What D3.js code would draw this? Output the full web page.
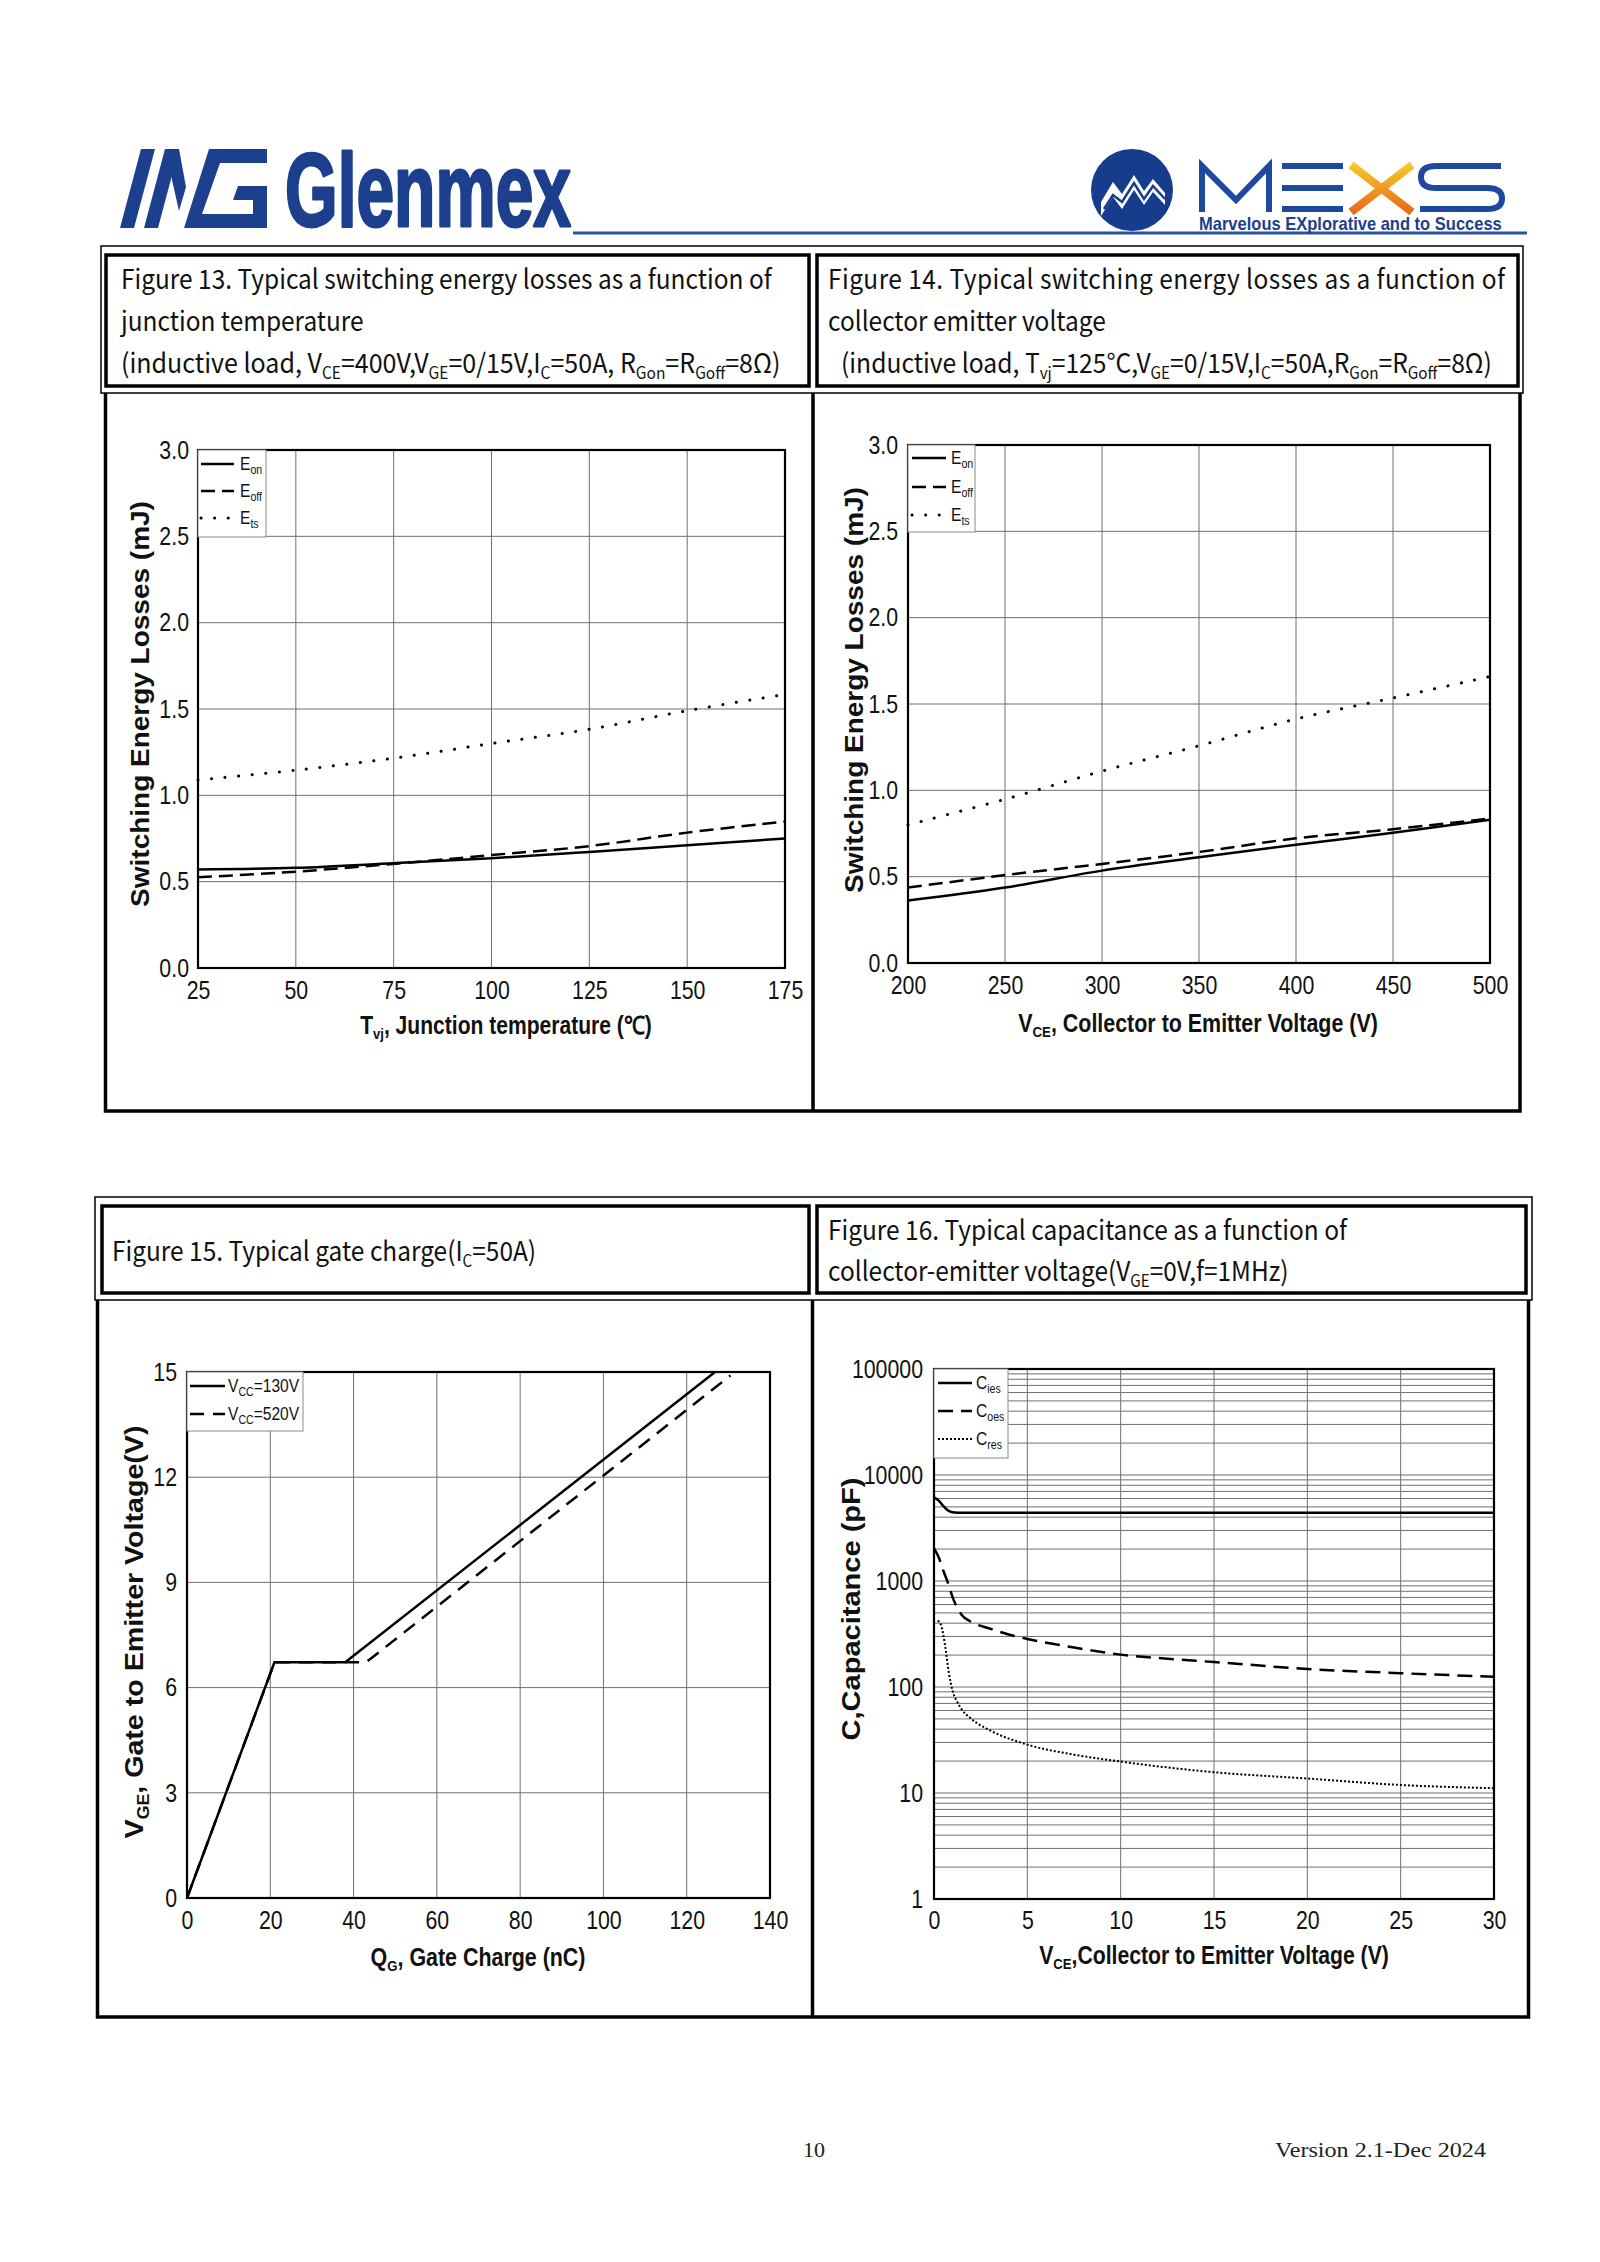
<!DOCTYPE html>
<html><head><meta charset="utf-8">
<script src="https://cdn.jsdelivr.net/npm/d3@7"></script>
<style>html,body{margin:0;padding:0;background:#fff;} svg{display:block;}</style>
</head><body><svg id="page" width="1600" height="2262"></svg>
<script>
// ---------------- DATA ----------------
// Figure 13: energy vs junction temperature
const tempX = [25, 50, 75, 100, 125, 150, 175];
const eonT  = [0.571, 0.580, 0.607, 0.636, 0.672, 0.711, 0.750];
const eoffT = [0.525, 0.558, 0.603, 0.654, 0.706, 0.784, 0.848];
const etsT  = [1.089, 1.146, 1.215, 1.300, 1.383, 1.490, 1.585];
const tempTicks = [25, 50, 75, 100, 125, 150, 175];
const energyTicks = [0, 0.5, 1.0, 1.5, 2.0, 2.5, 3.0];
// Figure 14: energy vs VCE
const vceX  = [200, 250, 300, 350, 400, 450, 500];
const eonV  = [0.362, 0.437, 0.535, 0.612, 0.685, 0.754, 0.829];
const eoffV = [0.437, 0.509, 0.574, 0.643, 0.722, 0.775, 0.837];
const etsV  = [0.800, 0.948, 1.111, 1.258, 1.413, 1.535, 1.659];
const vceTicks = [200, 250, 300, 350, 400, 450, 500];
// Figure 15: gate charge
const qg130  = [0, 21, 38, 126.8];
const vge130 = [0, 6.72, 6.72, 15];
const qg520  = [0, 21, 43, 130.5];
const vge520 = [0, 6.72, 6.72, 14.9];
const qgTicks = [0, 20, 40, 60, 80, 100, 120, 140];
const vgeTicks = [0, 3, 6, 9, 12, 15];
// Figure 16: capacitance vs VCE
const ciesV = [0, 0.25, 0.5, 0.75, 1.1, 1.5, 5, 10, 15, 20, 25, 30];
const ciesC = [6140, 5730, 5100, 4630, 4420, 4400, 4400, 4400, 4400, 4400, 4400, 4400];
const coesV = [0, 0.25, 0.5, 0.75, 1, 1.5, 2, 3, 4, 5, 7.5, 10, 12.5, 15, 20, 25, 30];
const coesC = [2030, 1675, 1250, 955, 700, 475, 411, 355, 313, 284, 236, 202, 185, 172, 148, 135, 125];
const cresV = [0.2, 0.4, 0.6, 0.8, 1, 1.25, 1.5, 2, 3, 5, 7.5, 10, 15, 20, 25, 30];
const cresC = [423, 373, 241, 135, 91.5, 72, 61, 50, 39, 28.6, 23, 19.8, 15.7, 13.7, 11.9, 11.1];
const capXTicks = [0, 5, 10, 15, 20, 25, 30];
const capYTicks = [1, 10, 100, 1000, 10000, 100000];

// ---------------- HELPERS ----------------
const svg = d3.select('#page');
const NARROW = 0.82;
const SANS = "'Liberation Sans', Arial, sans-serif";
const HFONT = "'Noto Sans CJK SC', 'Noto Sans', sans-serif";
const BLUE = '#1c3f8e';

function rich(parent, parts, size, subRatio) {
  const sr = subRatio || 0.62;
  const t = parent.append('text').attr('font-size', size);
  let shifted = false;
  const off = size * 0.22;
  parts.forEach(p => {
    const isSub = Array.isArray(p);
    const s = t.append('tspan').text(isSub ? p[0] : p);
    if (isSub) {
      s.attr('font-size', size * sr);
      if (!shifted) { s.attr('dy', off); shifted = true; }
    } else if (shifted) { s.attr('dy', -off); shifted = false; }
  });
  return t;
}
function fitWidth(t, target) { return target / t.node().getComputedTextLength(); }

// ---------------- LOGOS ----------------
const icon = svg.append('g').attr('transform', 'translate(120,149)').attr('fill', BLUE);
[
  [[0,79],[14,79],[35,0],[21,0]],
  [[24,79],[38,79],[59,0],[45,0]],
  [[45,0],[59,0],[66,38],[59,62]],
  [[64,79],[89,0],[147,0],[147,14],[100,14],[82,65],[133,65],[133,51],[113,51],[118,37],[147,37],[147,79]]
].forEach(pts => icon.append('polygon').attr('points', pts.map(p => p.join(',')).join(' ')));
{
  const g = svg.append('g');
  const t = g.append('text').text('Glenmex').attr('font-family', SANS).attr('font-weight', 'bold')
    .attr('font-size', 104).attr('fill', BLUE).attr('stroke', BLUE).attr('stroke-width', 3)
    .attr('stroke-linejoin', 'round');
  const s = fitWidth(t, 286);
  g.attr('transform', `translate(285,226) scale(${s},1)`);
}
svg.append('line').attr('x1', 573).attr('x2', 1527).attr('y1', 233).attr('y2', 233)
  .attr('stroke', '#2a52a0').attr('stroke-width', 3);
svg.append('circle').attr('cx', 1132).attr('cy', 190).attr('r', 41).attr('fill', '#163d8c');
{
  const g = svg.append('g').attr('transform', 'translate(1132,192)');
  g.append('polygon').attr('fill', '#fff').attr('points',
    '-31,10 -19,-10 -10,2 2,-17 12,-1 21,-13 33,1 33,13 21,0 12,13 2,-2 -10,17 -19,5 -31,24');
  g.append('polyline').attr('fill', 'none').attr('stroke', '#163d8c').attr('stroke-width', 2.5)
    .attr('points', '-28,17 -19,3 -10,10 2,-9 12,7 21,-6 33,7');
}
{
  const defs = svg.append('defs');
  const gr = defs.append('linearGradient').attr('id', 'xgrad').attr('x1', 0).attr('y1', 0).attr('x2', 0).attr('y2', 1);
  gr.append('stop').attr('offset', '0%').attr('stop-color', '#f6c928');
  gr.append('stop').attr('offset', '100%').attr('stop-color', '#e86a1c');
  const g = svg.append('g').attr('fill', 'none').attr('stroke', '#1d4aa0').attr('stroke-width', 6);
  g.append('polyline').attr('points', '1202,212 1202,166 1236,200 1269,166 1269,212');
  g.append('line').attr('x1', 1282).attr('x2', 1343).attr('y1', 166).attr('y2', 166);
  g.append('line').attr('x1', 1282).attr('x2', 1343).attr('y1', 188).attr('y2', 188);
  g.append('line').attr('x1', 1282).attr('x2', 1343).attr('y1', 209).attr('y2', 209);
  g.append('path').attr('d', 'M1501,166 H1436 Q1421,166 1421,177 Q1421,188 1436,188 H1487 Q1502,188 1502,198.5 Q1502,209 1487,209 H1420');
  svg.append('g').attr('stroke', 'url(#xgrad)').attr('stroke-width', 8)
    .call(s => {
      s.append('line').attr('x1', 1351).attr('y1', 165).attr('x2', 1412).attr('y2', 212);
      s.append('line').attr('x1', 1412).attr('y1', 165).attr('x2', 1351).attr('y2', 212);
    });
  const tg = svg.append('g');
  const t = tg.append('text').text('Marvelous EXplorative and to Success').attr('font-family', SANS)
    .attr('font-weight', 'bold').attr('font-size', 18).attr('fill', '#1c3f8e');
  tg.attr('transform', `translate(1199,230) scale(${fitWidth(t, 303)},1)`);
}

// ---------------- TABLE FRAMES ----------------
function frames(o) {
  const g = svg.append('g').attr('fill', 'none').attr('stroke', '#000');
  g.append('rect').attr('x', o.ox0).attr('y', o.oy0).attr('width', o.ox1 - o.ox0).attr('height', o.oy1 - o.oy0).attr('stroke-width', 1.5);
  g.append('rect').attr('x', o.lx0).attr('y', o.iy0).attr('width', o.lx1 - o.lx0).attr('height', o.iy1 - o.iy0).attr('stroke-width', 3.5);
  g.append('rect').attr('x', o.rx0).attr('y', o.iy0).attr('width', o.rx1 - o.rx0).attr('height', o.iy1 - o.iy0).attr('stroke-width', 3.5);
  g.append('path').attr('stroke-width', 3.5)
    .attr('d', `M${o.bx0},${o.oy1} V${o.by1} H${o.bx1} V${o.oy1} M${o.bmid},${o.oy1} V${o.by1}`);
}
frames({ox0: 101, ox1: 1523, oy0: 246, oy1: 393, lx0: 106, lx1: 809, rx0: 817, rx1: 1518, iy0: 255, iy1: 386,
  bx0: 105.5, bx1: 1520, bmid: 813, by1: 1111});
frames({ox0: 95, ox1: 1532, oy0: 1197, oy1: 1300, lx0: 102, lx1: 809, rx0: 817, rx1: 1526, iy0: 1206, iy1: 1293,
  bx0: 97.5, bx1: 1528.5, bmid: 812.5, by1: 2017});

// ---------------- HEADER TEXT ----------------
const headerLines = [
  {x: 121, y: 289, parts: ['Figure 13. Typical switching energy losses as a function of'], ref: 651},
  {x: 121, y: 331, parts: ['junction temperature']},
  {x: 121, y: 373, parts: ['(inductive load, V', ['CE'], '=400V,V', ['GE'], '=0/15V,I', ['C'], '=50A, R', ['Gon'], '=R', ['Goff'], '=8Ω)'], fit: 660},
  {x: 828, y: 289, parts: ['Figure 14. Typical switching energy losses as a function of'], justify: 677},
  {x: 828, y: 331, parts: ['collector emitter voltage']},
  {x: 841, y: 373, parts: ['(inductive load, T', ['vj'], '=125°C,V', ['GE'], '=0/15V,I', ['C'], '=50A,R', ['Gon'], '=R', ['Goff'], '=8Ω)'], fit: 651},
  {x: 112, y: 1261, parts: ['Figure 15. Typical gate charge(I', ['C'], '=50A)']},
  {x: 828, y: 1240, parts: ['Figure 16. Typical capacitance as a function of']},
  {x: 828, y: 1281, parts: ['collector-emitter voltage(V', ['GE'], '=0V,f=1MHz)']}
];
let hRatio = 1;
const hItems = headerLines.map(h => {
  const g = svg.append('g');
  const t = rich(g, h.parts, 27).attr('font-family', HFONT).attr('fill', '#111');
  if (h.ref) hRatio = fitWidth(t, h.ref);
  return {g, t, h};
});
hItems.forEach(({g, t, h}) => {
  let r = hRatio;
  if (h.justify) t.attr('textLength', h.justify / hRatio).attr('lengthAdjust', 'spacing');
  if (h.fit) r = fitWidth(t, h.fit);
  g.attr('transform', `translate(${h.x},${h.y}) scale(${r},1)`);
});

// ---------------- CHARTS ----------------
function titleText(cx, cy, parts, size, width, rotate) {
  const g = svg.append('g');
  const t = rich(g, parts, size).attr('font-family', SANS).attr('font-weight', 'bold')
    .attr('text-anchor', 'middle').attr('fill', '#111').attr('y', size * 0.36);
  const s = fitWidth(t, width);
  g.attr('transform', `translate(${cx},${cy})${rotate ? ' rotate(-90)' : ''} scale(${s},1)`);
}

function chart(c) {
  const x = d3.scaleLinear().domain(c.xDomain).range([c.x0, c.x1]);
  const y = (c.log ? d3.scaleLog() : d3.scaleLinear()).domain(c.yDomain).range([c.y1, c.y0]);
  const g = svg.append('g');
  g.append('g').selectAll('line').data(c.xGrid).join('line')
    .attr('x1', d => x(d)).attr('x2', d => x(d)).attr('y1', c.y0).attr('y2', c.y1)
    .attr('stroke', '#6f6f6f').attr('stroke-width', 1);
  g.append('g').selectAll('line').data(c.yGrid).join('line')
    .attr('y1', d => y(d)).attr('y2', d => y(d)).attr('x1', c.x0).attr('x2', c.x1)
    .attr('stroke', '#6f6f6f').attr('stroke-width', 1);
  const ax = g.append('g').attr('transform', `translate(0,${c.y1})`)
    .call(d3.axisBottom(x).tickValues(c.xTicks).tickSize(0).tickPadding(c.xPad).tickFormat(c.xFmt));
  ax.select('.domain').remove();
  ax.selectAll('text').attr('font-size', 26).attr('font-family', SANS).attr('fill', '#111')
    .attr('transform', `scale(${NARROW},1)`);
  const ay = g.append('g').attr('transform', `translate(${c.x0},0)`)
    .call(d3.axisLeft(y).tickValues(c.yTicks).tickSize(0).tickFormat(c.yFmt));
  ay.select('.domain').remove();
  ay.selectAll('text').attr('font-size', 26).attr('font-family', SANS).attr('fill', '#111')
    .attr('x', -c.yPad / NARROW).attr('transform', `scale(${NARROW},1)`);
  c.series.forEach(s => {
    const pts = s.x.map((v, i) => [v, s.y[i]]);
    g.append('path').datum(pts)
      .attr('d', d3.line().x(d => x(d[0])).y(d => y(d[1])).curve(s.curve || d3.curveLinear))
      .attr('fill', 'none').attr('stroke', '#000').attr('stroke-width', s.w || 2.5)
      .attr('stroke-dasharray', s.dash || null).attr('stroke-linecap', s.cap || 'butt');
  });
  g.append('rect').attr('x', c.x0).attr('y', c.y0).attr('width', c.x1 - c.x0).attr('height', c.y1 - c.y0)
    .attr('fill', 'none').attr('stroke', '#000').attr('stroke-width', 2.2);
  const L = c.legend;
  g.append('rect').attr('x', L.x0).attr('y', L.y0).attr('width', L.x1 - L.x0).attr('height', L.y1 - L.y0)
    .attr('fill', '#fff').attr('stroke', '#8a8a8a').attr('stroke-width', 1);
  L.rows.forEach((r, i) => {
    const s = c.series[i];
    g.append('line').attr('x1', L.sx0).attr('x2', L.sx1).attr('y1', r).attr('y2', r)
      .attr('stroke', '#000').attr('stroke-width', s.w || 2.5).attr('stroke-dasharray', s.ldash || s.dash || null)
      .attr('stroke-linecap', s.cap || 'butt');
    const lg = g.append('g').attr('transform', `translate(${L.tx},${r + 6}) scale(${NARROW},1)`);
    rich(lg, s.label, 19, 0.68).attr('font-family', SANS).attr('fill', '#111');
  });
  titleText(c.yt[0], c.yt[1], c.ytParts, 26, c.yt[2], true);
  titleText(c.xt[0], c.xt[1], c.xtParts, 25, c.xt[2], false);
}

const f1 = d3.format('.1f');
const fd = d3.format('d');
const curve = d3.curveCatmullRom;
const logGrid = [];
[1, 10, 100, 1000, 10000].forEach(d => { for (let k = 1; k <= 9; k++) logGrid.push(k * d); });
logGrid.push(100000);

chart({x0: 198, x1: 785, y0: 450, y1: 968, xDomain: [25, 175], yDomain: [0, 3],
  xGrid: tempTicks, yGrid: energyTicks, xTicks: tempTicks, yTicks: energyTicks,
  xFmt: fd, yFmt: f1, xPad: 13, yPad: 9,
  series: [
    {x: tempX, y: eonT, curve, label: ['E', ['on']]},
    {x: tempX, y: eoffT, curve, dash: '14,7', label: ['E', ['off']]},
    {x: tempX, y: etsT, curve, dash: '0.1,13.5', cap: 'round', w: 3, label: ['E', ['ts']]}
  ],
  legend: {x0: 198, x1: 266, y0: 450, y1: 537, rows: [464, 491, 518], sx0: 201, sx1: 234, tx: 240},
  yt: [140, 704, 406], ytParts: ['Switching Energy Losses (mJ)'],
  xt: [506, 1025, 292], xtParts: ['T', ['vj'], ', Junction temperature (℃)']
});

chart({x0: 908, x1: 1490, y0: 445, y1: 963, xDomain: [200, 500], yDomain: [0, 3],
  xGrid: vceTicks, yGrid: energyTicks, xTicks: vceTicks, yTicks: energyTicks,
  xFmt: fd, yFmt: f1, xPad: 13, yPad: 10,
  series: [
    {x: vceX, y: eonV, curve, label: ['E', ['on']]},
    {x: vceX, y: eoffV, curve, dash: '14,7', label: ['E', ['off']]},
    {x: vceX, y: etsV, curve, dash: '0.1,13.5', cap: 'round', w: 3, label: ['E', ['ts']]}
  ],
  legend: {x0: 908, x1: 975, y0: 445, y1: 532, rows: [458, 487, 515], sx0: 912, sx1: 946, tx: 951},
  yt: [854, 690, 406], ytParts: ['Switching Energy Losses (mJ)'],
  xt: [1198, 1023, 360], xtParts: ['V', ['CE'], ', Collector to Emitter Voltage (V)']
});

chart({x0: 187, x1: 770, y0: 1372, y1: 1898, xDomain: [0, 140], yDomain: [0, 15],
  xGrid: qgTicks, yGrid: vgeTicks, xTicks: qgTicks, yTicks: vgeTicks,
  xFmt: fd, yFmt: fd, xPad: 13, yPad: 10,
  series: [
    {x: qg130, y: vge130, label: ['V', ['CC'], '=130V']},
    {x: qg520, y: vge520, dash: '14,9', label: ['V', ['CC'], '=520V']}
  ],
  legend: {x0: 187, x1: 303, y0: 1372, y1: 1431, rows: [1386, 1414], sx0: 190, sx1: 225, tx: 228},
  yt: [134, 1632, 413], ytParts: ['V', ['GE'], ', Gate to Emitter Voltage(V)'],
  xt: [478, 1957, 215], xtParts: ['Q', ['G'], ', Gate Charge (nC)']
});

chart({x0: 934, x1: 1494, y0: 1369, y1: 1899, xDomain: [0, 30], yDomain: [1, 100000], log: true,
  xGrid: capXTicks, yGrid: logGrid, xTicks: capXTicks, yTicks: capYTicks,
  xFmt: fd, yFmt: fd, xPad: 12, yPad: 11,
  series: [
    {x: ciesV, y: ciesC, curve: d3.curveMonotoneX, label: ['C', ['ies']]},
    {x: coesV, y: coesC, curve: d3.curveMonotoneX, dash: '15,8', label: ['C', ['oes']]},
    {x: cresV, y: cresC, curve: d3.curveMonotoneX, dash: '2,2', w: 2, label: ['C', ['res']]}
  ],
  legend: {x0: 934, x1: 1008, y0: 1369, y1: 1458, rows: [1383, 1411, 1439], sx0: 938, sx1: 972, tx: 976},
  yt: [851, 1609, 263], ytParts: ['C,Capacitance (pF)'],
  xt: [1214, 1955, 350], xtParts: ['V', ['CE'], ',Collector to Emitter Voltage (V)']
});

// ---------------- FOOTER ----------------
svg.append('text').text('10').attr('x', 803).attr('y', 2157).attr('font-family', "'Liberation Serif', 'Times New Roman', serif")
  .attr('font-size', 22).attr('fill', '#222');
{
  const g = svg.append('g');
  const t = g.append('text').text('Version 2.1-Dec 2024').attr('font-family', "'Liberation Serif', 'Times New Roman', serif")
    .attr('font-size', 22).attr('fill', '#222');
  g.attr('transform', `translate(1275,2157) scale(${fitWidth(t, 211)},1)`);
}
</script></body></html>
